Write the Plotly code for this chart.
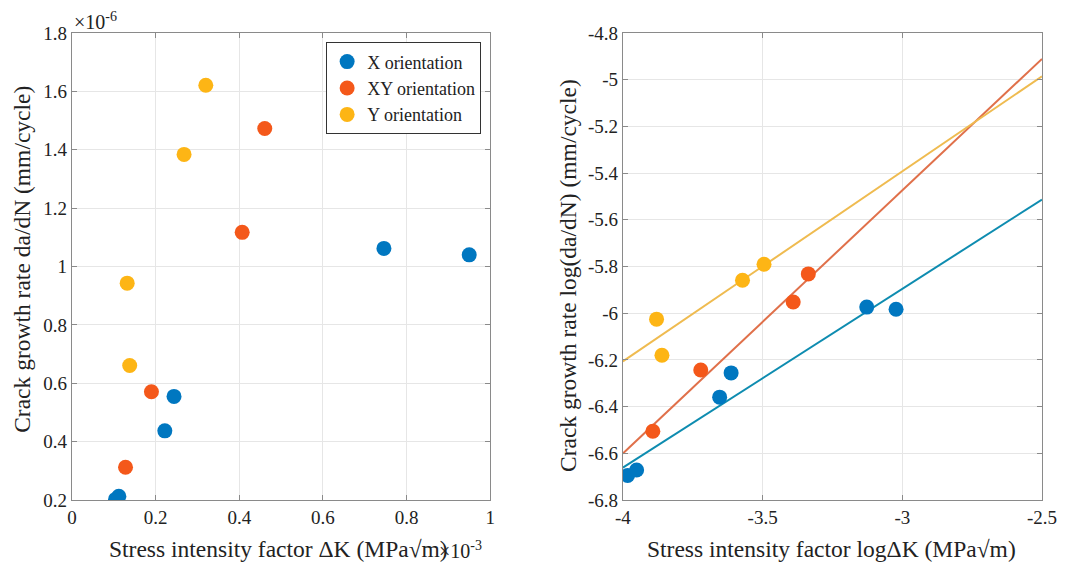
import numpy as np
import plotly.graph_objects as go

# Data (ΔK in units of 1e-3 MPa√m, da/dN in units of 1e-6 mm/cycle)
dk_x = [0.746, 0.950, 0.244, 0.222, 0.104, 0.112]
rate_x = [1.062, 1.040, 0.555, 0.437, 0.202, 0.213]
dk_xy = [0.461, 0.407, 0.190, 0.128]
rate_xy = [1.473, 1.117, 0.571, 0.312]
dk_y = [0.320, 0.268, 0.132, 0.138]
rate_y = [1.621, 1.384, 0.943, 0.661]

names = ["X orientation", "XY orientation", "Y orientation"]
marker_colors = ["#0077C0", "#F4581A", "#FDB515"]
line_colors = ["#0E8CB0", "#E0704A", "#EFBB50"]

left_xticks = [0, 0.2, 0.4, 0.6, 0.8, 1]
left_yticks = [0.2, 0.4, 0.6, 0.8, 1.0, 1.2, 1.4, 1.6, 1.8]
right_xticks = [-4, -3.5, -3, -2.5]
right_yticks = [-6.8, -6.6, -6.4, -6.2, -6, -5.8, -5.6, -5.4, -5.2, -5, -4.8]

series = [(dk_x, rate_x), (dk_xy, rate_xy), (dk_y, rate_y)]

FONT = "Liberation Serif, Times New Roman, serif"
W, H = 1065, 564
OFF = 8  # page body margin
ML, MT = 72 - OFF, 33.3 - OFF
MR = W - (1041.7 - OFF)
MB = H - (500 - OFF)
PW, PH = W - ML - MR, H - MT - MB


def px(xp):
    return (xp - OFF - ML) / PW


def py(yp):
    return 1 - (yp - OFF - MT) / PH


fig = go.Figure()

for (dk, r), name, mc in zip(series, names, marker_colors):
    fig.add_trace(go.Scatter(x=dk, y=r, mode="markers", name=name,
                             marker=dict(size=15, color=mc),
                             xaxis="x", yaxis="y", showlegend=True))

fit_x = np.array([-4.0, -2.5])
for (dk, r), name, mc, lc in zip(series, names, marker_colors, line_colors):
    lx = np.log10(np.array(dk) * 1e-3)
    ly = np.log10(np.array(r) * 1e-6)
    p = np.polyfit(lx, ly, 1)
    fig.add_trace(go.Scatter(x=fit_x, y=np.polyval(p, fit_x), mode="lines",
                             line=dict(color=lc, width=2), showlegend=False,
                             xaxis="x2", yaxis="y2"))
    fig.add_trace(go.Scatter(x=lx, y=ly, mode="markers", showlegend=False,
                             marker=dict(size=15, color=mc),
                             xaxis="x2", yaxis="y2"))

axis_common = dict(showgrid=True, gridcolor="#E6E6E6", gridwidth=1, automargin=False,
                   showline=True, linecolor="#8A8A8A", linewidth=1.2, mirror="ticks",
                   ticks="inside", ticklen=5, tickcolor="#8A8A8A",
                   zeroline=False, tickfont=dict(family=FONT, size=19, color="#222"))

fig.update_layout(
    template="none",
    width=W, height=H,
    margin=dict(l=ML, r=MR, t=MT, b=MB, autoexpand=False),
    paper_bgcolor="white", plot_bgcolor="white",
    font=dict(family=FONT, color="#222"),
    xaxis=dict(domain=[0, px(490)], range=[0, 1], tickvals=left_xticks,
               ticktext=[str(v) for v in left_xticks], anchor="y", **axis_common),
    yaxis=dict(domain=[0, 1], range=[0.2, 1.8], tickvals=left_yticks,
               ticktext=[("%g" % v) for v in left_yticks], anchor="x", **axis_common),
    xaxis2=dict(domain=[px(622.7), 1], range=[-4, -2.5], tickvals=right_xticks,
                ticktext=[("%g" % v) for v in right_xticks], anchor="y2", **axis_common),
    yaxis2=dict(domain=[0, 1], range=[-6.8, -4.8], tickvals=right_yticks,
                ticktext=[("%g" % v) for v in right_yticks], anchor="x2", **axis_common),
    legend=dict(x=px(481), xanchor="right", y=py(42.7), yanchor="top",
                bgcolor="white", bordercolor="#333", borderwidth=1,
                font=dict(family=FONT, size=18, color="#222"),
                itemsizing="trace", tracegroupgap=0),
)

ann = [
    dict(x=px(278.5), y=py(549), text="Stress intensity factor ΔK (MPa√m)", textangle=0),
    dict(x=px(831.5), y=py(549), text="Stress intensity factor logΔK (MPa√m)", textangle=0),
    dict(x=px(22), y=py(259), text="Crack growth rate da/dN (mm/cycle)", textangle=-90),
    dict(x=px(568), y=py(276), text="Crack growth rate log(da/dN) (mm/cycle)", textangle=-90),
]
for a in ann:
    fig.add_annotation(xref="paper", yref="paper", x=a["x"], y=a["y"], text=a["text"],
                       textangle=a["textangle"], showarrow=False, xanchor="center", yanchor="middle",
                       font=dict(family=FONT, size=23.5, color="#222"))

fig.add_annotation(xref="paper", yref="paper", x=px(72), y=py(21),
                   text="×10<sup>-6</sup>", showarrow=False, xanchor="left", yanchor="middle",
                   font=dict(family=FONT, size=20, color="#222"))
fig.add_annotation(xref="paper", yref="paper", x=px(437), y=py(550),
                   text="×10<sup>-3</sup>", showarrow=False, xanchor="left", yanchor="middle",
                   font=dict(family=FONT, size=20, color="#222"))

fig.write_html("out.html")
